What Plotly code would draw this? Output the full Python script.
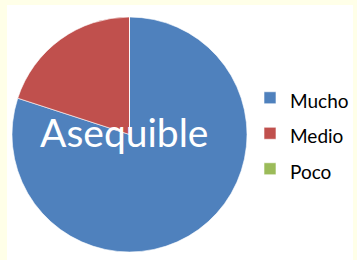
import plotly.graph_objects as go

categories = ["Mucho", "Medio", "Poco"]
values = [80, 20, 0]
colors = ["#4F81BD", "#C0504D", "#9BBB59"]
title_text = "Asequible"

W, H = 357, 260

fig = go.Figure(go.Pie(
    labels=[f"<span style='font-size:19px'>{c}</span>" for c in categories],
    values=values,
    sort=False,
    direction="clockwise",
    rotation=0,
    textinfo="none",
    hoverinfo="label+value",
    marker=dict(colors=colors, line=dict(color="white", width=0.6)),
    domain=dict(x=[12 / W, 247 / W], y=[8 / H, 243 / H]),
    showlegend=True,
))

fig.update_layout(
    width=W, height=H,
    margin=dict(l=0, r=0, t=0, b=0, autoexpand=False),
    paper_bgcolor="#FFFFE8",
    font=dict(family="Lato, Open Sans, sans-serif", color="#000000"),
    showlegend=True,
    legend=dict(
        x=250 / W, xanchor="left",
        y=(H - 133.5) / H, yanchor="middle",
        font=dict(size=25, color="#000000"),
        bgcolor="rgba(0,0,0,0)",
        itemclick=False,
    ),
    shapes=[dict(type="rect", xref="paper", yref="paper",
                 x0=7 / W, x1=353 / W, y0=0, y1=(H - 5) / H,
                 fillcolor="white", line=dict(width=0), layer="below")],
    annotations=[dict(text=title_text, xref="paper", yref="paper",
                      x=123.5 / W, y=(H - 132) / H,
                      xanchor="center", yanchor="middle", showarrow=False,
                      font=dict(size=39, color="white", family="Lato, Open Sans, sans-serif"))],
)

fig.write_html("out.html", config={"displayModeBar": False},
               post_script="document.body.style.margin='0';document.body.style.overflow='hidden';")
